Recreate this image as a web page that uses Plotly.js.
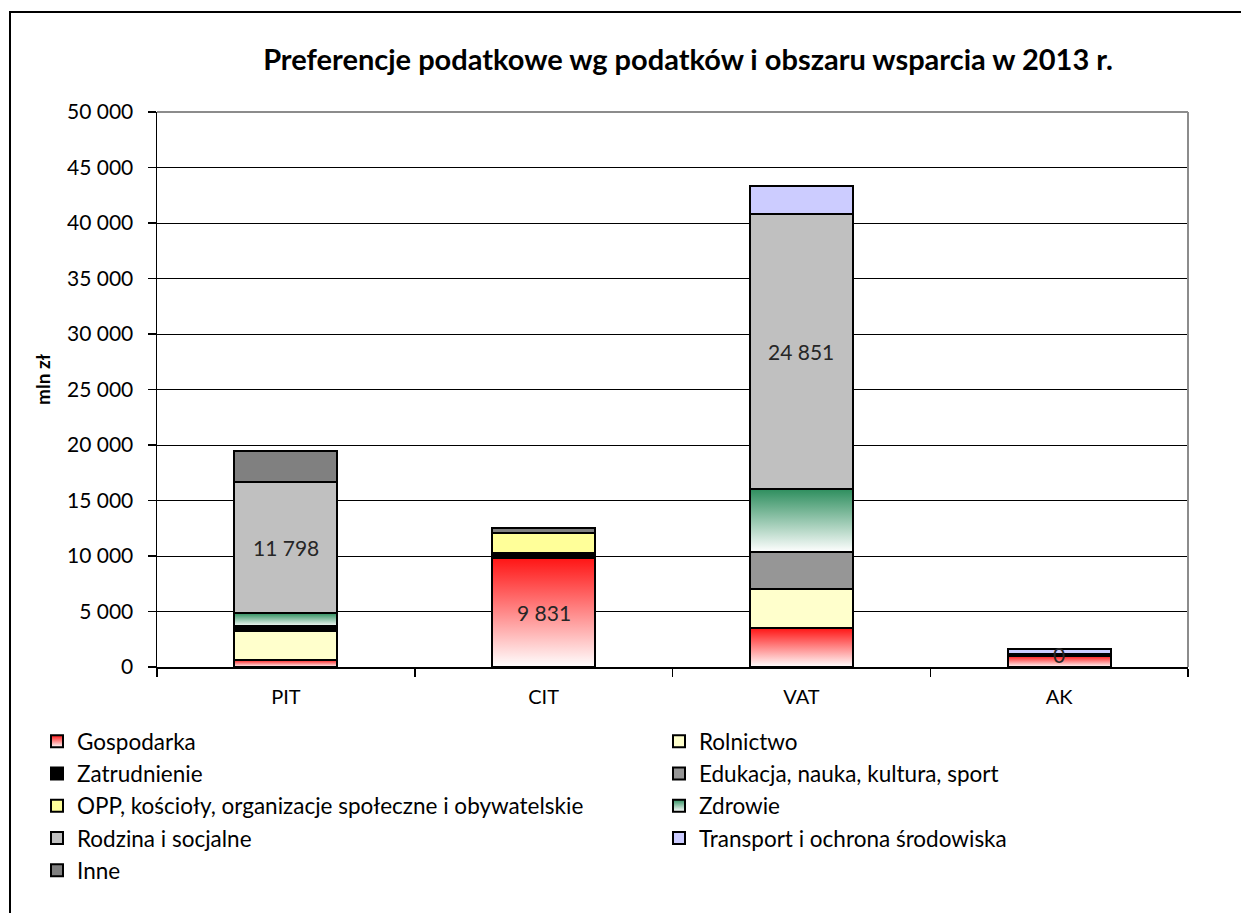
<!DOCTYPE html>
<html>
<head>
<meta charset="utf-8">
<script src="https://cdn.plot.ly/plotly-3.0.1.min.js"></script>
<style>
  html, body { margin: 0; padding: 0; background: #fff; }
  #chart { width: 1241px; height: 913px; }
</style>
</head>
<body>
<div id="chart"></div>
<script>
// Tax preferences by tax and support area, 2013 (mln zł)
const categories = ['PIT', 'CIT', 'VAT', 'AK'];

const gospodarka   = [650, 9831, 3510, 1000];
const rolnictwo    = [2550, 0, 3540, 0];
const zatrudnienie = [450, 450, 0, 150];
const edukacja     = [0, 0, 3300, 0];
const opp          = [0, 1800, 0, 0];
const zdrowie      = [1200, 0, 5650, 0];
const rodzina      = [11798, 0, 24851, 0];
const transport    = [0, 0, 2460, 500];
const inne         = [2850, 450, 0, 0];

const seriesNames = [
  'Gospodarka', 'Rolnictwo', 'Zatrudnienie', 'Edukacja, nauka, kultura, sport',
  'OPP, kościoły, organizacje społeczne i obywatelskie', 'Zdrowie',
  'Rodzina i socjalne', 'Transport i ochrona środowiska', 'Inne'
];
const seriesValues = [gospodarka, rolnictwo, zatrudnienie, edukacja, opp, zdrowie, rodzina, transport, inne];
const seriesColors = ['#ff3030', '#ffffcc', '#000000', '#969696', '#ffff99', '#339966', '#c0c0c0', '#ccccff', '#808080'];
// left legend column gets the even positions, right column the odd ones
const seriesLegend = ['legend', 'legend2', 'legend', 'legend2', 'legend', 'legend2', 'legend', 'legend2', 'legend'];

// segments that carry a value label: [series, category]
const labelled = [
  ['Rodzina i socjalne', 'PIT'],
  ['Gospodarka', 'CIT'],
  ['Rodzina i socjalne', 'VAT'],
  ['Rodzina i socjalne', 'AK']
];

const yTitle = 'mln zł';
const chartTitle = 'Preferencje podatkowe wg podatków i obszaru wsparcia w 2013 r.';

const FONT = 'Lato, "Open Sans", sans-serif';

const traces = seriesNames.map((name, k) => ({
  type: 'bar',
  name: name,
  x: categories,
  y: seriesValues[k],
  marker: { color: seriesColors[k], line: { color: '#000', width: 2 } },
  legend: seriesLegend[k],
  legendgroup: 'g' + k,
  hoverinfo: 'skip'
}));

function fmt(n) {
  return String(Math.round(n)).replace(/\B(?=(\d{3})+(?!\d))/g, ' ');
}

// pixel geometry of the plot area
const W = 1241, H = 913, L = 157, R = 53, T = 112, B = 246;
const pw = W - L - R, ph = H - T - B;
const px = x => (x - L) / pw;
const py = y => (H - B - y) / ph;

const annotations = labelled.map(([sName, cat]) => {
  const s = seriesNames.indexOf(sName);
  const i = categories.indexOf(cat);
  let base = 0;
  for (let k = 0; k < s; k++) base += seriesValues[k][i];
  const v = seriesValues[s][i];
  return {
    x: cat, y: base + v / 2, xref: 'x', yref: 'y',
    text: fmt(v), showarrow: false,
    font: { family: FONT, size: 21, color: '#262626' }
  };
});

// rotated value-axis caption
annotations.push({
  xref: 'paper', yref: 'paper', x: px(42), y: py(380),
  xanchor: 'center', yanchor: 'middle',
  text: '<b>' + yTitle + '</b>', textangle: -90, showarrow: false,
  font: { family: FONT, size: 19, color: '#000' }
});

const shapes = [
  // chart frame
  { type: 'path', xref: 'paper', yref: 'paper',
    path: `M ${px(10)} ${py(930)} L ${px(10)} ${py(12)} L ${px(1260)} ${py(12)}`,
    line: { color: '#000', width: 2 } },
  // plot area top and right edges
  { type: 'line', xref: 'paper', yref: 'paper', x0: 0, x1: 1, y0: 1, y1: 1,
    line: { color: '#8c8c8c', width: 2 } },
  { type: 'line', xref: 'paper', yref: 'paper', x0: 1, x1: 1, y0: 0, y1: 1,
    line: { color: '#8c8c8c', width: 2 } }
];

const legendCommon = {
  xref: 'paper', xanchor: 'left',
  y: py(720), yanchor: 'top',
  orientation: 'v', traceorder: 'normal', tracegroupgap: 0,
  font: { family: FONT, size: 22.5, color: '#000' },
  bgcolor: 'rgba(0,0,0,0)'
};

const layout = {
  width: W, height: H,
  margin: { l: L, r: R, t: T, b: B },
  paper_bgcolor: '#fff', plot_bgcolor: '#fff',
  separators: ', ',
  barmode: 'stack',
  bargap: 0.6,
  font: { family: FONT, color: '#000' },
  title: {
    text: '<b>' + chartTitle + '</b>',
    font: { family: FONT, size: 29, color: '#000' },
    x: px(688), xref: 'paper', xanchor: 'center',
    y: 1 - 60 / H, yanchor: 'middle'
  },
  xaxis: {
    type: 'category',
    tickson: 'boundaries',
    ticks: 'outside', ticklen: 8, tickwidth: 1.5, tickcolor: '#000',
    ticklabelstandoff: 11,
    showline: true, linecolor: '#000', linewidth: 1.5,
    showgrid: false,
    tickfont: { family: FONT, size: 20, color: '#000' },
    fixedrange: true
  },
  yaxis: {
    range: [0, 50000], dtick: 5000, tick0: 0,
    tickformat: ',d',
    ticks: 'outside', ticklen: 8, tickwidth: 1.5, tickcolor: '#000',
    ticklabelstandoff: 10,
    showline: true, linecolor: '#000', linewidth: 1.5,
    showgrid: true, gridcolor: '#000', gridwidth: 1,
    zeroline: false,
    tickfont: { family: FONT, size: 21, color: '#000' },
    fixedrange: true
  },
  showlegend: true,
  legend: Object.assign({ x: px(37) }, legendCommon),
  legend2: Object.assign({ x: px(659) }, legendCommon),
  annotations: annotations,
  shapes: shapes
};

// vertical white-to-colour fills for two of the series
const gradients = {
  'Gospodarka': { id: 'fillGospodarka', top: '#ff1414' },
  'Zdrowie': { id: 'fillZdrowie', top: '#2f8f5f' }
};

function addGradients(gd) {
  const NS = 'http://www.w3.org/2000/svg';
  const defs = gd.querySelector('svg.main-svg defs');
  Object.values(gradients).forEach(g => {
    const lg = document.createElementNS(NS, 'linearGradient');
    lg.setAttribute('id', g.id);
    lg.setAttribute('x1', '0'); lg.setAttribute('y1', '0');
    lg.setAttribute('x2', '0'); lg.setAttribute('y2', '1');
    [['0', g.top], ['1', '#ffffff']].forEach(([off, col]) => {
      const st = document.createElementNS(NS, 'stop');
      st.setAttribute('offset', off);
      st.setAttribute('stop-color', col);
      lg.appendChild(st);
    });
    defs.appendChild(lg);
  });

  gd.querySelectorAll('.barlayer .trace').forEach(tr => {
    const d = tr.__data__;
    const name = d && d[0] && d[0].trace && d[0].trace.name;
    if (gradients[name]) {
      tr.querySelectorAll('path').forEach(p => { p.style.fill = `url(#${gradients[name].id})`; });
    }
  });
  gd.querySelectorAll('g.traces').forEach(tr => {
    const d = tr.__data__;
    const item = d && d[0];
    const name = item && item.trace && item.trace.name;
    if (gradients[name]) {
      tr.querySelectorAll('.legendpoints path').forEach(p => { p.style.fill = `url(#${gradients[name].id})`; });
    }
  });
}

Plotly.newPlot('chart', traces, layout, { staticPlot: true, displayModeBar: false })
  .then(addGradients);
</script>
</body>
</html>
